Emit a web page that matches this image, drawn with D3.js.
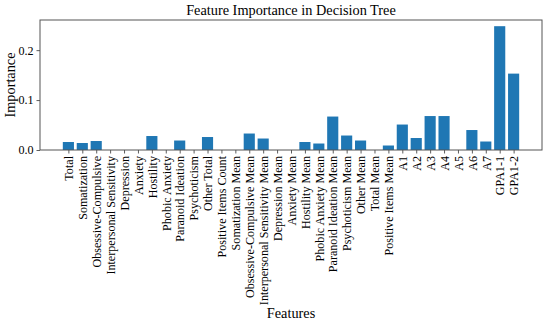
<!DOCTYPE html>
<html>
<head>
<meta charset="utf-8">
<script src="https://cdn.jsdelivr.net/npm/d3@7"></script>
<style>
  body { margin: 0; background: #fff; }
  svg text { font-family: "Liberation Serif", "Times New Roman", serif; fill: #000; }
</style>
</head>
<body>
<svg id="chart"></svg>
<script>
// feature names (x axis)
var features = [
  'Total', 'Somatization', 'Obsessive-Compulsive', 'Interpersonal Sensitivity',
  'Depression', 'Anxiety', 'Hostility', 'Phobic Anxiety', 'Paranoid Ideation',
  'Psychoticism', 'Other Total', 'Positive Items Count', 'Somatization Mean',
  'Obsessive-Compulsive Mean', 'Interpersonal Sensitivity Mean', 'Depression Mean',
  'Anxiety Mean', 'Hostility Mean', 'Phobic Anxiety Mean', 'Paranoid Ideation Mean',
  'Psychoticism Mean', 'Other Mean', 'Total Mean', 'Positive Items Mean',
  'A1', 'A2', 'A3', 'A4', 'A5', 'A6', 'A7', 'GPA1-1', 'GPA1-2'
];
// importance values
var importance = [
  0.016, 0.014, 0.018, 0, 0, 0, 0.028, 0, 0.019, 0, 0.026, 0, 0,
  0.033, 0.023, 0, 0, 0.016, 0.013, 0.067, 0.029, 0.019, 0, 0.009,
  0.051, 0.024, 0.068, 0.068, 0, 0.040, 0.017, 0.248, 0.153
];
var yTicks = [0, 0.1, 0.2];

var W = 550, H = 326;
var m = { left: 40, right: 8, top: 20, bottom: 176 };

var svg = d3.select('#chart').attr('width', W).attr('height', H);

var n = features.length;
// matplotlib style: bars width 0.8, 5% margins
var lo = -0.4, hi = n - 1 + 0.4, pad = (hi - lo) * 0.05;
var x = d3.scaleLinear()
  .domain([lo - pad, hi + pad])
  .range([m.left, W - m.right]);
var ymax = d3.max(importance) * 1.05;
var y = d3.scaleLinear()
  .domain([0, ymax])
  .range([H - m.bottom, m.top]);

// bars
svg.append('g')
  .selectAll('rect')
  .data(importance)
  .enter().append('rect')
  .attr('x', function(d, i) { return x(i - 0.4); })
  .attr('width', x(0.8) - x(0))
  .attr('y', function(d) { return y(d); })
  .attr('height', function(d) { return y(0) - y(d); })
  .attr('fill', '#1f77b4');

// x axis
var xAxis = d3.axisBottom(x)
  .tickValues(d3.range(n))
  .tickFormat(function(i) { return features[i]; })
  .tickSizeInner(3.5).tickSizeOuter(0).tickPadding(3);
var gx = svg.append('g')
  .attr('transform', 'translate(0,' + y(0) + ')')
  .call(xAxis);
gx.select('.domain').remove();
gx.selectAll('line').attr('stroke', '#333').attr('stroke-width', 0.8);
gx.selectAll('text')
  .attr('font-size', 12.1)
  .attr('transform', 'rotate(-90)')
  .attr('text-anchor', 'end')
  .attr('x', -6)
  .attr('y', 0)
  .attr('dy', '0.35em');

// y axis
var yAxis = d3.axisLeft(y)
  .tickValues(yTicks)
  .tickFormat(d3.format('.1f'))
  .tickSizeInner(3.5).tickSizeOuter(0).tickPadding(3);
var gy = svg.append('g')
  .attr('transform', 'translate(' + m.left + ',0)')
  .call(yAxis);
gy.select('.domain').remove();
gy.selectAll('line').attr('stroke', '#333').attr('stroke-width', 0.8);
gy.selectAll('text').attr('font-size', 12.1);

// frame
svg.append('rect')
  .attr('x', m.left).attr('y', m.top)
  .attr('width', W - m.right - m.left)
  .attr('height', y(0) - m.top)
  .attr('fill', 'none')
  .attr('stroke', '#555')
  .attr('stroke-width', 1);

// title and axis labels
svg.append('text')
  .attr('x', (m.left + W - m.right) / 2)
  .attr('y', 15)
  .attr('text-anchor', 'middle')
  .attr('font-size', 14.3)
  .text('Feature Importance in Decision Tree');

svg.append('text')
  .attr('transform', 'translate(15,' + ((m.top + y(0)) / 2) + ') rotate(-90)')
  .attr('text-anchor', 'middle')
  .attr('font-size', 14.3)
  .text('Importance');

svg.append('text')
  .attr('x', (m.left + W - m.right) / 2)
  .attr('y', 318)
  .attr('text-anchor', 'middle')
  .attr('font-size', 14.3)
  .text('Features');
</script>
</body>
</html>
